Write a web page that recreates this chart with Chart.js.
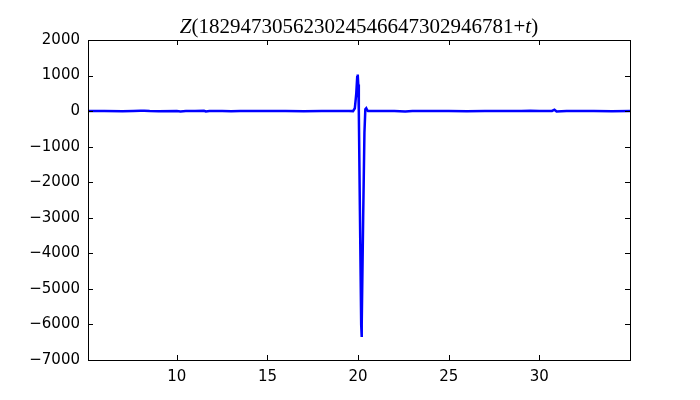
<!DOCTYPE html>
<html>
<head>
<meta charset="utf-8">
<script src="https://cdn.jsdelivr.net/npm/chart.js@4.4.1/dist/chart.umd.min.js"></script>
<style>
  html, body { margin: 0; padding: 0; background: #fff; }
  #wrap { width: 700px; height: 400px; position: relative; }
</style>
</head>
<body>
<div id="wrap"><canvas id="zChart"></canvas></div>
<script>
// t values and Z(t)
const tValues = [5.1, 6.0, 7.0, 7.6, 8.0, 8.2, 8.5, 9.0, 10.0, 10.2, 10.5, 11.0, 11.5, 11.6, 11.8, 12.5, 13.0, 13.5, 14.0,
  15.0, 16.0, 17.0, 18.0, 19.0, 19.5, 19.72, 19.82, 19.9, 19.95, 19.98, 20.01, 20.04, 20.1, 20.17, 20.19, 20.21, 20.28,
  20.35, 20.4, 20.45, 20.5, 20.55, 21.0, 22.0, 22.6, 23.0, 24.0, 25.0, 26.0, 27.0, 28.0, 29.0, 29.5, 30.0, 30.7,
  30.83, 30.95, 31.5, 32.0, 33.0, 34.0, 35.0];
const zValues = [0, 3, -3, 5, 12, 8, 0, -3, 0, -10, 0, 3, 10, -8, 0, 3, -3, 5, 0,
  0, 3, -3, 0, 3, 5, 0, 80, 500, 950, 1030, 750, 0, -2800, -6000, -6350, -6000, -3000,
  -600, 50, 80, 30, 0, 3, 0, -8, 0, 3, 0, -3, 0, 3, 0, 8, 0, 5,
  40, -12, 0, 3, 0, -3, 0];
const xTicks = [10, 15, 20, 25, 30];
const yMin = -7000, yMax = 2000, yStep = 1000;
const titleParts = [["Z", true], ["(182947305623024546647302946781+", false], ["t", true], [")", false]];

const points = tValues.map((t, i) => ({ x: t, y: zValues[i] }));

// matplotlib-like frame, inward ticks and mixed-style title
const framePlugin = {
  id: 'frame',
  afterDraw(chart) {
    const { ctx, chartArea: a, scales } = chart;
    ctx.save();
    ctx.strokeStyle = '#000';
    ctx.lineWidth = 1;
    ctx.strokeRect(a.left + 0.5, a.top + 0.5, a.right - a.left, a.bottom - a.top);
    const len = 5;
    ctx.beginPath();
    xTicks.forEach(v => {
      const x = Math.round(scales.x.getPixelForValue(v)) + 0.5;
      ctx.moveTo(x, a.bottom); ctx.lineTo(x, a.bottom - len);
      ctx.moveTo(x, a.top); ctx.lineTo(x, a.top + len);
    });
    for (let v = yMin; v <= yMax; v += yStep) {
      const y = Math.round(scales.y.getPixelForValue(v)) + 0.5;
      ctx.moveTo(a.left, y); ctx.lineTo(a.left + len, y);
      ctx.moveTo(a.right, y); ctx.lineTo(a.right - len, y);
    }
    ctx.stroke();

    // title
    ctx.fillStyle = '#000';
    ctx.textBaseline = 'alphabetic';
    const fontFor = it => (it ? 'italic ' : '') + '21px "Liberation Serif", "DejaVu Serif", serif';
    let total = 0;
    titleParts.forEach(([s, it]) => { ctx.font = fontFor(it); total += ctx.measureText(s).width; });
    let x = (a.left + a.right) / 2 - total / 2;
    titleParts.forEach(([s, it]) => {
      ctx.font = fontFor(it);
      ctx.fillText(s, x, 33);
      x += ctx.measureText(s).width;
    });
    ctx.restore();
  }
};

new Chart(document.getElementById('zChart').getContext('2d'), {
  type: 'line',
  data: {
    datasets: [{
      data: points,
      borderColor: '#0000ff',
      borderWidth: 2.5,
      pointRadius: 0,
      tension: 0,
      fill: false
    }]
  },
  options: {
    responsive: true,
    maintainAspectRatio: false,
    animation: false,
    layout: { padding: { top: 40, right: 70, left: 0, bottom: 0 } },
    plugins: {
      legend: { display: false },
      title: { display: false },
      tooltip: { enabled: false }
    },
    scales: {
      x: {
        type: 'linear',
        min: 5.1,
        max: 35,
        afterBuildTicks: scale => { scale.ticks = xTicks.map(v => ({ value: v })); },
        afterFit: scale => { scale.height = 40; },
        grid: { display: false, drawTicks: false },
        border: { display: false },
        ticks: {
          color: '#000',
          padding: 8,
          maxRotation: 0,
          font: { family: '"DejaVu Sans"', size: 15 }
        }
      },
      y: {
        min: yMin,
        max: yMax,
        afterFit: scale => { scale.width = 88; },
        grid: { display: false, drawTicks: false },
        border: { display: false },
        ticks: {
          stepSize: yStep,
          color: '#000',
          padding: 8,
          font: { family: '"DejaVu Sans"', size: 15 },
          callback: v => String(v).replace('-', '\u2212')
        }
      }
    }
  },
  plugins: [framePlugin]
});
</script>
</body>
</html>
